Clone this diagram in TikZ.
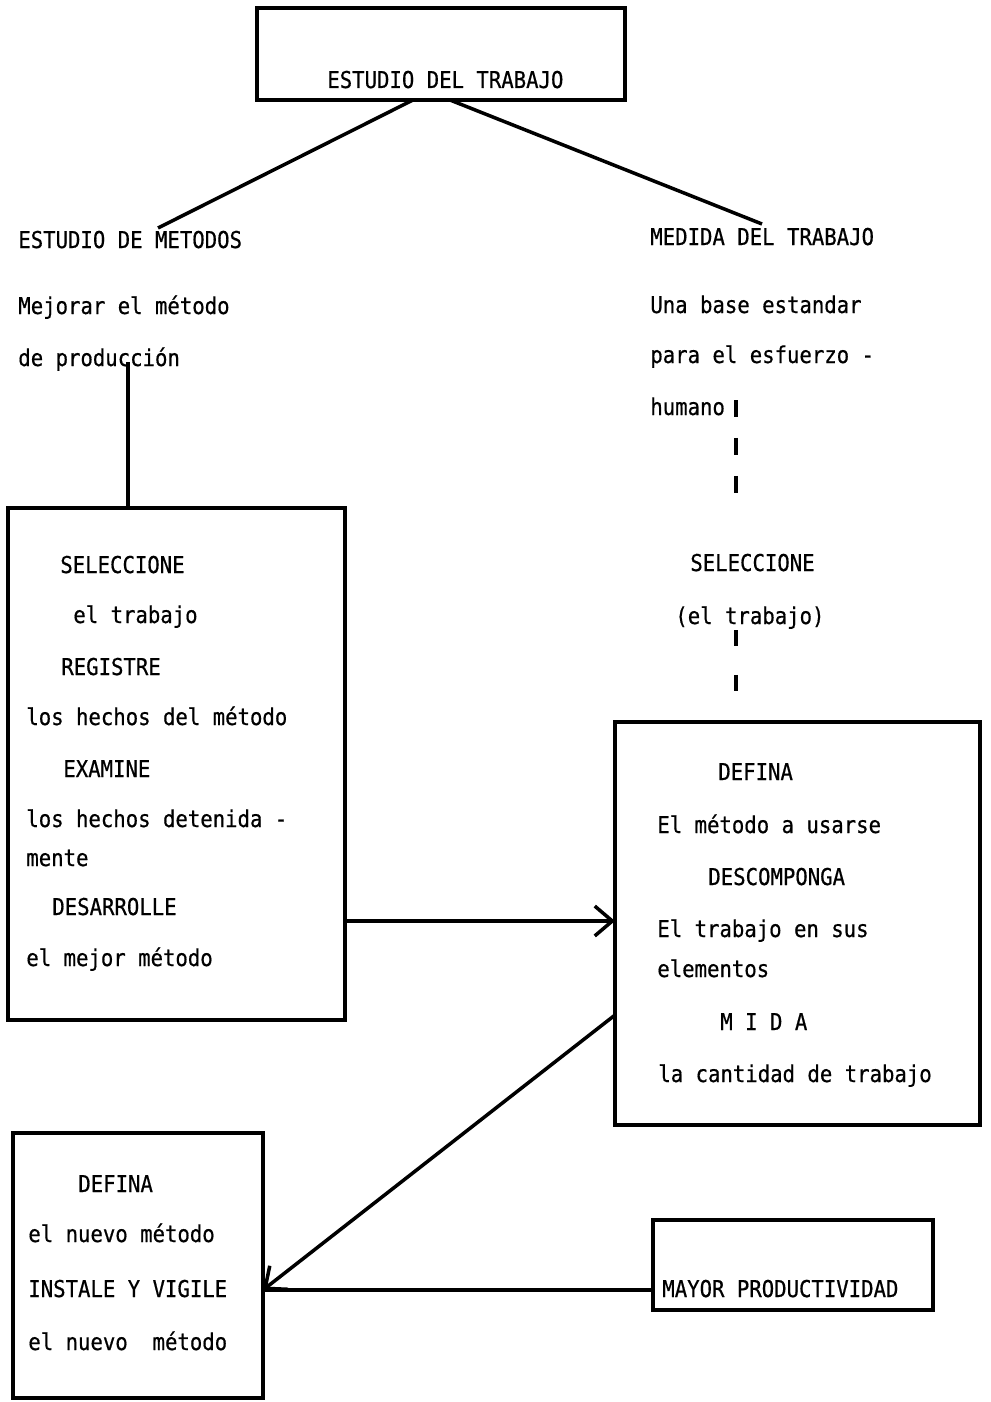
\documentclass[tikz,border=0pt]{standalone}
\usepackage{fontspec}
\newfontfamily\maquina[FakeStretch=0.89,FakeBold=0.6]{DejaVu Sans Mono}
\usetikzlibrary{arrows.meta}
\tikzstyle{caja} = [rectangle, draw=black, line width=2pt, inner sep=0pt, outer sep=0pt]
\tikzstyle{texto} = [anchor=base west, inner sep=0pt, font=\maquina\fontsize{13.2pt}{15pt}\selectfont]
\tikzstyle{linea} = [line width=2pt]
\tikzstyle{flecha} = [line width=2pt,-{Straight Barb[length=10pt,width=17pt]}]
\tikzstyle{punteada} = [line width=2pt, dash pattern=on 0.34cm off 0.42cm]

\begin{document}
\begin{tikzpicture}[x=0.02cm,y=-0.02cm]
			\useasboundingbox (0,0) rectangle (990,1402);
			% cajas
			\node (trabajo) [caja, minimum width=7.36cm, minimum height=1.84cm] at (441,54) {};
			\node (seleccion) [caja, minimum width=6.74cm, minimum height=10.24cm] at (176.5,764) {};
			\node (definir) [caja, minimum width=7.3cm, minimum height=8.06cm] at (797.5,923.5) {};
			\node (instalar) [caja, minimum width=5cm, minimum height=5.3cm] at (138,1265.5) {};
			\node (mayor) [caja, minimum width=5.6cm, minimum height=1.8cm] at (793,1265) {};
			
			% textos
			\node (tittrabajo) [texto] at (327,88) {ESTUDIO DEL TRABAJO};
			\node (titmetodos) [texto] at (18,248) {ESTUDIO DE METODOS};
			\node (mejorar) [texto] at (18,314) {Mejorar el método};
			\node (produccion) [texto] at (18,366) {de producción};
			\node (titmedida) [texto] at (650,245) {MEDIDA DEL TRABAJO};
			\node (base) [texto] at (650,313) {Una base estandar};
			\node (esfuerzo) [texto] at (650,363) {para el esfuerzo -};
			\node (humano) [texto] at (650,415) {humano};
			\node (selmed) [texto] at (690,571) {SELECCIONE};
			\node (trabmed) [texto] at (675,624) {(el trabajo)};
			
			\node (l1) [texto] at (60,573) {SELECCIONE};
			\node (l2) [texto] at (73,623) {el trabajo};
			\node (l3) [texto] at (61,675) {REGISTRE};
			\node (l4) [texto] at (26,725) {los hechos del método};
			\node (l5) [texto] at (63,777) {EXAMINE};
			\node (l6) [texto] at (26,827) {los hechos detenida -};
			\node (l7) [texto] at (26,866) {mente};
			\node (l8) [texto] at (52,915) {DESARROLLE};
			\node (l9) [texto] at (26,966) {el mejor método};
			
			\node (r1) [texto] at (718,780) {DEFINA};
			\node (r2) [texto] at (657,833) {El método a usarse};
			\node (r3) [texto] at (708,885) {DESCOMPONGA};
			\node (r4) [texto] at (657,937) {El trabajo en sus};
			\node (r5) [texto] at (657,977) {elementos};
			\node (r6) [texto] at (720,1030) {M I D A};
			\node (r7) [texto] at (658,1082) {la cantidad de trabajo};
			
			\node (b1) [texto] at (78,1192) {DEFINA};
			\node (b2) [texto] at (28,1242) {el nuevo método};
			\node (b3) [texto] at (28,1297) {INSTALE Y VIGILE};
			\node (b4) [texto] at (28,1350) {el nuevo\ \ método};
			\node (mayortxt) [texto] at (662,1297) {MAYOR PRODUCTIVIDAD};
			
			% puntos de union
			\coordinate (m1) at (158,228);
			\coordinate (m2) at (762,224);
			\coordinate (p1) at (128,362);
			\coordinate (a1) at (0,921);
			\coordinate (a2) at (0,1015);
			\coordinate (a3) at (0,1290);
			\coordinate (d1) at (736,400);
			\coordinate (d2) at (736,496);
			\coordinate (d3) at (736,630);
			\coordinate (d4) at (736,705);
			
			\draw [linea] ([xshift=-0.56cm]trabajo.south) -- (m1);
			\draw [linea] ([xshift=0.18cm]trabajo.south) -- (m2);
			\draw [linea] (p1) -- (p1 |- seleccion.north);
			\draw [punteada] (d1) -- (d2);
			\draw [punteada, dash pattern=on 0.32cm off 0.58cm] (d3) -- (d4);
			\draw [flecha] (seleccion.east |- a1) -- (definir.west |- a1);
			\draw [flecha] (definir.west |- a2) -- (instalar.east |- a3);
			\draw [linea] (mayor.west |- a3) -- (instalar.east |- a3);
			\end{tikzpicture}
\end{document}
